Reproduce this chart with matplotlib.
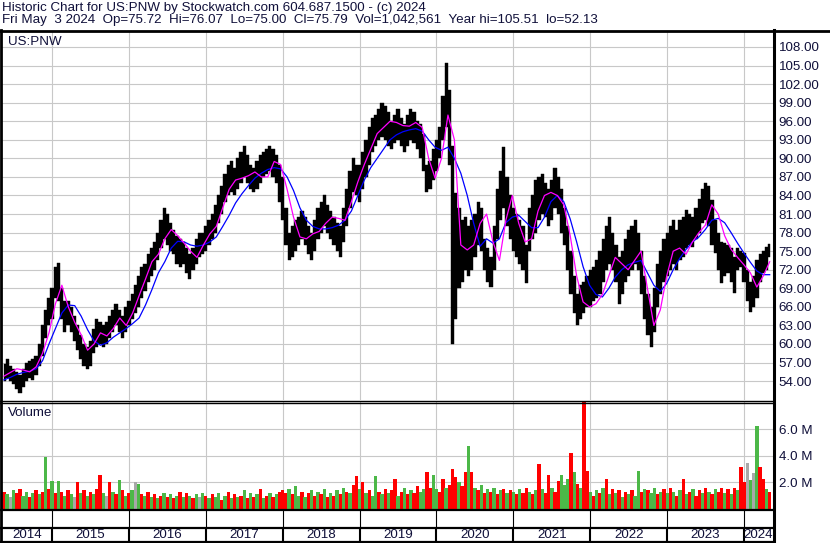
import numpy as np
import matplotlib.pyplot as plt
from matplotlib.lines import Line2D

W, H = 830, 543

# semi-monthly bars (fractional years), first bar mid May 2014
start_year = 2014.375
step = 1 / 24

price_lo = [
    54.0, 54.5, 54.0, 53.5, 52.8, 52.1, 53.0, 54.0, 54.5, 54.2, 55.0, 56.5, 58.0, 61.0, 63.0,
    64.0, 67.5, 67.0, 64.0, 62.0, 63.0, 62.0, 60.5, 59.0, 57.5, 56.5, 56.0, 56.5, 58.5, 59.5, 60.0, 59.5, 60.0, 61.0, 62.0, 63.0, 62.0, 61.0, 62.0,
    63.0, 64.0, 65.0, 66.0, 67.5, 68.5, 70.0, 71.0, 72.0, 73.5, 75.5, 77.0, 76.0, 75.0, 74.5, 73.0, 72.5, 73.0, 71.5, 70.5, 72.0, 73.0, 74.0, 74.5,
    75.0, 76.0, 77.0, 78.0, 79.5, 81.0, 83.0, 84.0, 84.5, 84.0, 85.0, 86.0, 87.0, 86.0, 85.0, 84.5, 85.0, 86.0, 87.0, 87.5, 88.0, 87.0, 86.0, 83.0,
    80.0, 76.0, 73.5, 74.0, 75.0, 76.0, 77.0, 76.0, 74.5, 73.5, 75.0, 77.0, 78.0, 79.0, 78.0, 77.0, 76.0, 75.0, 74.0, 76.5, 79.0, 82.0, 84.5, 84.0,
    83.0, 85.0, 87.0, 89.0, 91.0, 92.0, 93.0, 93.5, 93.0, 92.0, 91.5, 92.5, 93.0, 92.0, 91.0, 92.0, 93.0, 92.5, 91.5, 90.0, 88.0, 84.5, 85.0, 86.5,
    88.0, 90.0, 93.0, 95.0, 89.0, 60.0, 64.0, 69.0, 70.0, 72.0, 71.0, 72.0, 74.0, 76.0, 75.0, 72.0, 70.0, 69.2, 72.0, 77.0, 80.0, 82.0, 79.0, 77.0,
    75.0, 74.0, 73.0, 72.0, 69.9, 75.0, 77.0, 78.0, 80.0, 81.0, 80.5, 79.0, 80.0, 82.0, 81.0, 78.0, 76.0, 72.0, 68.0, 65.0, 63.0, 64.0, 65.0, 66.0,
    66.0, 67.0, 67.5, 68.0, 70.0, 72.0, 73.0, 72.0, 70.0, 66.5, 68.0, 70.0, 71.0, 72.0, 73.0, 72.0, 68.0, 64.0, 61.5, 59.5, 62.0, 66.0, 68.0, 70.0,
    71.0, 72.0, 73.0, 72.0, 73.5, 74.0, 75.5, 76.0, 75.7, 77.0, 78.0, 79.5, 80.0, 79.0, 76.0, 74.7, 72.0, 69.9, 71.0, 71.5, 70.0, 68.3, 72.0, 72.5,
    70.0, 67.0, 65.2, 66.0, 67.5, 70.0, 71.5, 72.0, 74.0,
]
price_hi = [
    56.8, 57.5, 56.5, 56.0, 55.5, 55.0, 56.0, 57.0, 57.2, 57.5, 58.0, 60.0, 63.0, 65.5, 67.5,
    69.0, 72.5, 73.1, 69.0, 67.0, 67.0, 66.0, 64.5, 63.0, 61.5, 60.0, 59.5, 60.5, 62.5, 64.0, 63.5, 63.0, 63.5, 64.5, 65.5, 66.5, 65.5, 64.5, 66.0,
    67.0, 68.0, 69.5, 71.0, 72.5, 73.0, 74.5, 75.5, 76.5, 78.0, 80.0, 82.0, 81.0, 79.5, 78.5, 77.5, 77.0, 76.5, 75.5, 74.5, 75.5, 77.0, 78.0, 78.0,
    79.0, 80.0, 81.0, 82.5, 84.0, 85.5, 87.5, 89.0, 89.5, 88.5, 90.0, 91.0, 92.0, 90.5, 89.0, 88.5, 89.5, 90.5, 91.0, 91.5, 92.0, 91.5, 90.5, 89.0,
    87.0, 82.0, 78.0, 79.0, 80.0, 80.5, 81.5, 80.5, 79.0, 78.0, 80.0, 82.0, 83.0, 84.0, 82.5, 81.5, 80.5, 79.5, 79.0, 82.0, 85.0, 88.0, 90.0, 89.0,
    89.0, 91.0, 93.0, 95.0, 96.5, 97.0, 98.0, 99.0, 98.5, 97.5, 96.0, 97.0, 98.0, 96.5, 95.5, 97.0, 98.0, 97.5, 96.0, 95.5, 94.0, 89.0, 89.5, 91.5,
    93.0, 95.0, 100.0, 105.4, 101.0, 92.0, 84.4, 82.0, 80.0, 80.5, 79.0, 80.0, 81.0, 83.0, 82.0, 77.0, 75.5, 74.0, 79.0, 85.0, 88.0, 91.8, 87.0, 84.0,
    82.0, 81.0, 80.0, 79.0, 76.0, 82.0, 84.0, 86.5, 87.0, 87.5, 86.0, 85.0, 86.5, 88.5, 87.0, 85.0, 82.0, 79.0, 75.0, 71.0, 68.0, 69.5, 70.0, 71.0,
    72.0, 72.5, 73.5, 75.0, 77.0, 79.0, 80.5, 78.0, 76.0, 74.0, 75.0, 77.0, 78.5, 79.0, 80.0, 78.0, 75.0, 71.0, 68.0, 66.0, 69.0, 73.0, 75.0, 77.0,
    78.0, 79.0, 80.0, 78.5, 80.0, 80.5, 81.7, 81.0, 80.5, 82.0, 83.5, 85.0, 86.0, 85.5, 83.3, 80.0, 78.0, 76.5, 76.3, 76.0, 75.5, 74.0, 75.5, 75.0,
    74.7, 72.0, 70.0, 71.0, 73.6, 74.5, 75.0, 75.7, 76.1,
]

# volume in millions, same dates; g = up, r = down, n = unchanged
vol_m = [
    1.3, 1.1, 0.9, 1.4, 1.2, 1.5, 1.0, 1.3, 0.9, 1.2, 1.4, 1.1, 1.3, 3.9, 1.5,
    2.1, 1.2, 2.1, 1.3, 1.0, 1.4, 1.1, 0.9, 2.0, 1.2, 1.4, 1.0, 1.3, 1.1, 1.5, 2.6, 1.2, 1.0, 2.0, 1.3, 1.1, 2.2, 1.4, 1.0,
    1.2, 1.4, 2.0, 1.9, 1.1, 1.0, 1.3, 0.9, 1.1, 0.8, 1.0, 1.2, 0.9, 1.1, 0.8, 1.0, 1.3, 0.9, 1.2, 1.0, 0.8, 1.1, 0.9, 1.2,
    1.0, 0.8, 1.1, 0.9, 1.2, 0.7, 1.0, 1.3, 0.8, 1.1, 0.9, 1.0, 1.4, 0.8, 1.2, 0.9, 1.1, 1.5, 0.8, 1.0, 1.2, 0.9, 1.1, 1.3,
    1.4, 1.2, 1.5, 1.1, 1.7, 1.0, 1.3, 0.9, 1.2, 1.4, 1.0, 1.3, 1.1, 1.5, 0.9, 1.2, 1.0, 1.4, 1.1, 1.6, 1.3, 1.2, 1.8, 2.5,
    1.5, 2.0, 1.2, 1.4, 1.0, 2.5, 1.3, 1.1, 1.5, 1.2, 1.4, 2.3, 1.0, 1.3, 1.6, 1.1, 1.4, 1.2, 1.7, 1.3, 1.5, 2.8, 1.6, 2.6,
    1.5, 1.3, 2.3, 1.6, 1.8, 3.0, 2.4, 2.0, 1.7, 2.8, 4.75, 2.8, 1.6, 1.4, 1.8, 1.2, 1.5, 1.3, 1.6, 1.1, 1.4, 1.5, 1.2, 1.4,
    1.3, 1.1, 1.5, 1.2, 1.6, 1.3, 1.1, 1.4, 3.4, 1.5, 1.2, 2.6, 1.6, 1.3, 2.1, 2.6, 1.8, 2.3, 4.2, 2.8, 1.9, 1.6, 8.1, 2.9,
    1.3, 1.0, 1.4, 1.2, 1.6, 2.3, 1.1, 1.5, 1.2, 1.4, 0.9, 1.3, 1.1, 1.4, 1.0, 2.9, 1.3, 1.5, 1.4, 1.2, 1.6, 1.1, 1.3, 1.5,
    1.2, 1.6, 1.3, 1.0, 1.4, 2.3, 1.1, 1.3, 1.5, 1.0, 1.4, 1.2, 1.6, 1.3, 1.1, 1.5, 1.3, 1.6, 1.2, 1.5, 1.1, 1.6, 1.4, 3.2,
    2.0, 3.5, 2.2, 2.7, 6.3, 3.2, 2.3, 1.5, 1.3,
]
vol_dir = ("rgngrrggrgrgrgr"
           "grgrgrgnrgrgrgrrgnrgrgrg"
           "rgngrgrgrgrgrgrgrgrgrgng"
           "rgrggrgrgrgrgrgrgrgrgrgr"
           "rrgrggrgrgrgrgrgrgrgrgrr"
           "grgrggrgrgrrgrgrgrrggrrg"
           "grrgrrrgrrgrgrgrgrgrgrgr"
           "grgrrgrgrgrrgrrgggrgrgrr"
           "grgrgrgrgrgrgrggrgrggrgr"
           "grgrgrgrgrrgrgrgrrgrgrgr"
           "rngngrrgr")

# moving averages, monthly readings from mid May 2014 to early May 2024
ma_fast = [
    54.8, 55.4, 56.0, 55.8, 55.5, 56.3, 58.5, 61.8, 66.5, 69.5,
    66.0, 63.5, 61.5, 59.0, 60.0, 61.8, 61.3, 62.5, 64.2, 63.0,
    65.0, 67.8, 70.5, 73.3, 74.5, 77.0, 78.5, 77.5, 76.3, 75.0,
    74.0, 76.0, 77.8, 79.0, 82.0, 85.0, 86.5, 86.8, 87.2, 87.8,
    87.0, 87.0, 89.5, 89.0, 85.0, 80.5, 77.3, 77.0, 77.8, 78.2,
    79.5, 80.5, 80.3, 80.0, 83.0, 86.2, 89.0, 91.5, 94.0, 95.0,
    96.0, 95.8, 95.3, 95.2, 95.8, 95.0, 90.0, 86.8, 90.0, 97.0,
    93.0, 76.0, 75.2, 76.0, 79.5, 81.0, 76.5, 73.5, 80.0, 84.0,
    79.5, 76.5, 77.0, 81.5, 84.0, 84.5, 84.0, 82.5, 77.5, 71.0,
    66.8, 66.0, 66.5, 68.0, 71.0, 74.0, 73.0, 72.0, 73.5, 75.0,
    69.0, 63.0, 65.5, 71.0, 75.0, 75.5, 74.5, 76.5, 78.0, 79.2,
    82.5, 81.0, 77.5, 75.3, 74.0, 72.8, 71.5, 69.2, 71.0, 73.3,
]
ma_slow = [
    54.2, 54.6, 55.1, 55.4, 55.6, 56.0, 57.3, 60.0, 62.5, 65.0,
    66.3, 66.2, 64.5, 62.3, 60.5, 59.8, 60.2, 61.1, 61.8, 62.5,
    63.3, 64.2, 66.3, 68.8, 71.5, 73.3, 75.5, 76.6, 76.5, 76.0,
    75.8, 76.0, 76.5, 77.3, 79.0, 80.8, 82.8, 84.3, 85.6, 86.8,
    87.6, 88.2, 88.5, 88.3, 87.0, 84.8, 82.0, 80.0, 79.0, 78.6,
    78.6, 78.8, 79.2, 80.0, 81.5, 84.0, 86.5, 88.5, 90.0, 91.5,
    93.0, 93.8, 94.3, 94.6, 94.8, 94.4, 93.0, 91.8, 91.3, 91.8,
    90.0, 87.6, 84.0, 79.5, 75.8, 77.0, 76.3, 77.0, 79.6, 80.5,
    80.8, 79.8, 78.8, 78.8, 80.5, 83.0, 84.0, 83.0, 80.2, 76.5,
    72.5, 69.5, 68.0, 67.6, 69.0, 70.8, 72.0, 72.8, 73.2, 73.5,
    71.5, 69.5, 68.5, 69.8, 72.0, 73.8, 75.3, 76.5, 77.3, 78.5,
    80.0, 80.3, 79.6, 78.0, 76.3, 74.7, 73.2, 71.8, 71.2, 71.2,
]

year_labels = ["2014", "2015", "2016", "2017", "2018", "2019",
               "2020", "2021", "2022", "2023", "2024"]
price_ticks = [54, 57, 60, 63, 66, 69, 72, 75, 78, 81, 84, 87, 90,
               93, 96, 99, 102, 105, 108]
vol_ticks = [2, 4, 6]

header1 = "Historic Chart for US:PNW by Stockwatch.com 604.687.1500 - (c) 2024"
header2 = ("Fri May  3 2024  Op=75.72  Hi=76.07  Lo=75.00  Cl=75.79  "
           "Vol=1,042,561  Year hi=105.51  lo=52.13")


def px_box(x0, y0, x1, y1):
    return [x0 / W, 1 - y1 / H, (x1 - x0) / W, (y1 - y0) / H]


def hline(fig, y, x0, x1, lw):
    fig.add_artist(Line2D([x0 / W, x1 / W], [1 - y / H, 1 - y / H],
                          color="black", lw=lw, transform=fig.transFigure))


def vline(fig, x, y0, y1, lw):
    fig.add_artist(Line2D([x / W, x / W], [1 - y0 / H, 1 - y1 / H],
                          color="black", lw=lw, transform=fig.transFigure))


def main() -> None:
    plt.rcParams["font.family"] = ["Liberation Sans", "DejaVu Sans"]
    fig = plt.figure(figsize=(W / 100, H / 100), dpi=100)
    fig.patch.set_facecolor("white")

    t = start_year + step * np.arange(len(price_lo))
    lo = np.array(price_lo)
    hi = np.array(price_hi)
    t_ma = np.linspace(start_year, 2024.333, len(ma_fast))
    x0, x1 = 2014.3498, 2024.376
    years = [int(y) for y in year_labels]
    grid_kw = dict(color="#c8c8c8", lw=0.8)
    txt_col = "#10103a"
    fs = 9.6

    # price panel: hi-lo range as one stepped shape so no seams show
    ax = fig.add_axes(px_box(2, 32, 773, 400))
    ax.fill_between(t, lo, hi, step="mid", color="black", linewidth=0.3, zorder=2)
    ax.plot(t_ma, ma_slow, color="#0000ff", lw=0.9, zorder=3)
    ax.plot(t_ma, ma_fast, color="#ff00ff", lw=0.9, zorder=4)
    ax.set_xlim(x0, x1)
    ax.set_ylim(50.95, 110.42)
    ax.set_yticks(price_ticks)
    ax.set_yticklabels(["%.2f" % v for v in price_ticks])
    ax.set_xticks(years[1:])
    ax.yaxis.tick_right()
    ax.tick_params(axis="y", length=0, pad=4, labelsize=fs, labelcolor=txt_col)
    ax.tick_params(axis="x", length=0, labelbottom=False)
    ax.grid(True, zorder=0, **grid_kw)
    ax.set_axisbelow(True)
    for s in ax.spines.values():
        s.set_visible(False)

    # volume panel
    colors = {"g": "#4cb848", "r": "#ff0000", "n": "#a8a8a8"}
    axv = fig.add_axes(px_box(2, 402, 773, 509))
    axv.bar(t, vol_m, width=step * 1.05, color=[colors[c] for c in vol_dir],
            linewidth=0, antialiased=False, zorder=2)
    axv.set_xlim(x0, x1)
    axv.set_ylim(0, 8.075)
    axv.set_yticks(vol_ticks)
    axv.set_yticklabels(["%.1f M" % v for v in vol_ticks])
    axv.set_xticks(years[1:])
    axv.yaxis.tick_right()
    axv.tick_params(axis="y", length=0, pad=4, labelsize=fs, labelcolor=txt_col)
    axv.tick_params(axis="x", length=0, labelbottom=False)
    axv.grid(True, zorder=0, **grid_kw)
    axv.set_axisbelow(True)
    for s in axv.spines.values():
        s.set_visible(False)

    # date rows
    axd = fig.add_axes(px_box(2, 509, 773, 541))
    axd.set_xlim(x0, x1)
    axd.set_ylim(32, 0)
    axd.axis("off")
    axd.vlines(years[1:], 0, 18, color="black", lw=0.8)
    axd.vlines(years[1:], 18, 32, color="black", lw=1.5)
    for y, lab in zip(years, year_labels):
        a, b = max(y, x0), min(y + 1, x1)
        axd.text((a + b) / 2, 25.5, lab, ha="center", va="center",
                 fontsize=fs, color=txt_col)

    # frame lines
    hline(fig, 30.5, 0, W, 2.0)
    vline(fig, 1, 30, 542, 2.0)
    vline(fig, 773.5, 30, H, 2.2)
    hline(fig, 400.5, 0, 773, 1.0)
    hline(fig, 402.8, 0, 773, 1.0)
    hline(fig, 509.5, 0, 773, 1.6)
    hline(fig, 527.5, 0, 773, 1.6)
    hline(fig, 541.5, 0, 773, 1.6)

    fig.text(2 / W, 1 - 7.5 / H, header1, fontsize=fs, va="center", color=txt_col)
    fig.text(2 / W, 1 - 20.5 / H, header2, fontsize=fs, va="center", color=txt_col)
    fig.text(8 / W, 1 - 42 / H, "US:PNW", fontsize=fs, va="center", color=txt_col)
    fig.text(8 / W, 1 - 413 / H, "Volume", fontsize=fs, va="center", color=txt_col)

    fig.savefig("out.png", dpi=100)


if __name__ == "__main__":
    main()
